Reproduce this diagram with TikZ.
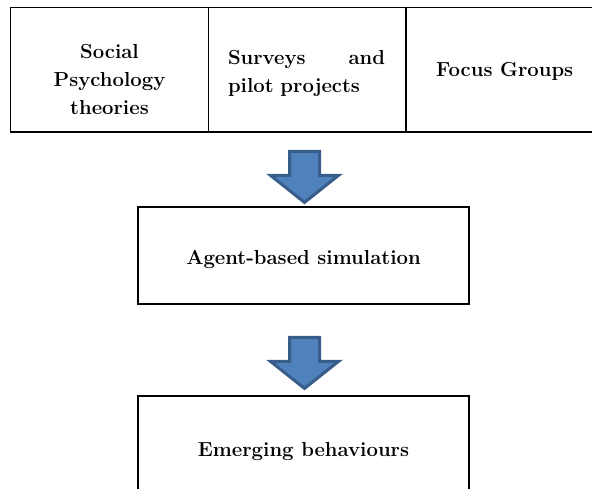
\documentclass[tikz,border=0pt]{standalone}
\usepackage{tikz}
\usetikzlibrary{calc}

\definecolor{arrowfill}{RGB}{79,129,189}
\definecolor{arrowedge}{RGB}{56,93,138}

\tikzset{
	cellbox/.style={draw,line width=1.2pt,minimum width=197.6pt,minimum height=124.7pt,inner sep=0pt},
	stagebox/.style={draw,line width=1.2pt,minimum width=331pt,minimum height=97pt,inner sep=0pt},
	boxtext/.style={font=\fontsize{20.3}{28}\selectfont\bfseries,inner sep=0pt},
	blockarrow/.style={fill=arrowfill,draw=arrowedge,line width=3pt,line join=miter}
}

\begin{document}
\begin{tikzpicture}[x=1pt,y=-1pt]
	\useasboundingbox (0,0) rectangle (592,488);
	\clip (0,0) rectangle (592,488);
	
	\node[cellbox] (social) at (109.5,69.7) {};
	\node[cellbox] (surveys) at (307.1,69.7) {};
	\node[cellbox] (focus) at (504.7,69.7) {};
	
	\node[boxtext,align=center] (socialtext) at (109.5,79) {Social \\ Psychology \\ theories};
	\node[boxtext,text width=157pt,align=left] (surveystext) at (306.5,73) {Surveys \hfill and \\ pilot projects};
	\node[boxtext] (focustext) at (504.7,71) {Focus Groups};
	
	\node[stagebox] (agent) at (303.5,255.5) {};
	\node[boxtext] (agenttext) at (303.5,259) {Agent-based simulation};
	
	\node[stagebox] (emerging) at (303.5,444.5) {};
	\node[boxtext] (emergingtext) at (303.5,451) {Emerging behaviours};
	
	\coordinate (tip1) at ($(agent.north)+(1,-4)$);
	\coordinate (tip2) at ($(emerging.north)+(1,-7)$);
	
	\draw[blockarrow] (tip1) -- ++(-34,-27) -- ++(19,0) -- ++(0,-24) -- ++(30,0) -- ++(0,24) -- ++(19,0) -- cycle; %upper arrow
	\draw[blockarrow] (tip2) -- ++(-34,-27) -- ++(19,0) -- ++(0,-24) -- ++(30,0) -- ++(0,24) -- ++(19,0) -- cycle; %lower arrow
\end{tikzpicture}
\end{document}
